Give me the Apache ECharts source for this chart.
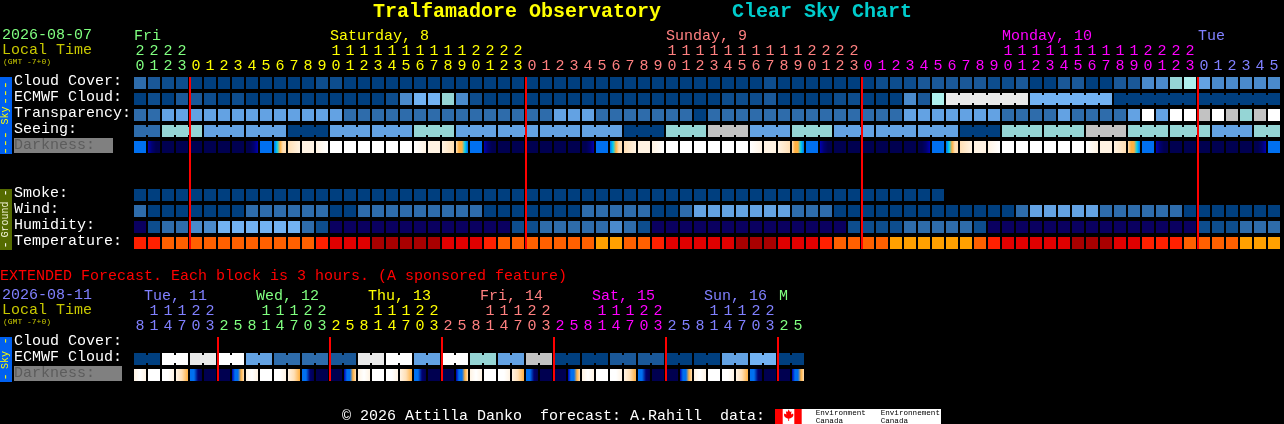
<!DOCTYPE html>
<html><head><meta charset="utf-8">
<style>html,body{margin:0;padding:0;background:#000}#c{width:1284px;height:424px}</style>
<script src="https://cdn.jsdelivr.net/npm/echarts@6/dist/echarts.min.js"></script>
</head><body><div id="c"></div>
<script>
// ---------- data ----------
const rowLabels=['Cloud Cover:','ECMWF Cloud:','Transparency:','Seeing:','Darkness:','','','Smoke:','Wind:','Humidity:','Temperature:'];
const extRowLabels=['Cloud Cover:','ECMWF Cloud:','Darkness:'];
const hours=[20,21,22,23,0,1,2,3,4,5,6,7,8,9,10,11,12,13,14,15,16,17,18,19,20,21,22,23,0,1,2,3,4,5,6,7,8,9,10,11,12,13,14,15,16,17,18,19,20,21,22,23,0,1,2,3,4,5,6,7,8,9,10,11,12,13,14,15,16,17,18,19,20,21,22,23,0,1,2,3,4,5];
const hourDays=[0,0,0,0,1,1,1,1,1,1,1,1,1,1,1,1,1,1,1,1,1,1,1,1,1,1,1,1,2,2,2,2,2,2,2,2,2,2,2,2,2,2,2,2,2,2,2,2,2,2,2,2,3,3,3,3,3,3,3,3,3,3,3,3,3,3,3,3,3,3,3,3,3,3,3,3,4,4,4,4,4,4];
const dayNames=['Fri','Saturday, 8','Sunday, 9','Monday, 10','Tue'];
const dayCols=[0,14,38,62,76];
const midnights=[4,28,52,76];
const cloudCover=[3,2,1,1,0,0,0,0,0,0,0,0,0,1,1,0,0,0,0,0,0,0,0,0,0,0,0,0,0,0,0,0,0,0,0,0,0,0,0,0,0,0,0,0,0,1,0,0,0,0,0,0,0,1,1,1,2,2,2,2,2,1,1,2,0,0,2,2,0,0,2,2,4,4,7,8,5,4,4,4,4,4];
const ecmwf=[0,1,0,2,2,1,0,1,0,0,0,0,0,0,0,0,0,0,1,4,6,6,7,4,1,0,0,0,0,0,0,0,0,0,0,0,0,0,0,0,0,0,1,1,1,2,0,0,0,0,1,1,0,0,0,4,2,8,9,9,9,9,9,9,6,6,6,6,6,6,0,0,0,0,0,0,0,0,0,0,0,0];
const ecmwfGroups=[[58,63],[64,69],[70,75],[76,81]];
const transparency=[3,3,5,5,5,5,5,5,5,5,5,5,5,5,5,3,3,3,3,3,3,3,3,3,3,3,3,3,3,3,5,5,5,3,3,3,3,3,3,3,0,3,3,3,3,3,3,3,3,3,3,3,3,3,3,5,5,5,5,5,5,5,3,3,3,3,5,3,3,3,3,5,10,5,10,10,11,10,11,7,11,10];
const seeing=[3,3,7,7,7,5,5,5,5,5,5,0,0,0,5,5,5,5,5,5,7,7,7,5,5,5,5,5,5,5,5,5,5,5,5,0,0,0,7,7,7,11,11,11,5,5,5,7,7,7,5,5,5,5,5,5,5,5,5,0,0,0,7,7,7,7,7,7,11,11,11,7,7,7,7,7,7,5,5,5,7,7];
const seeingGroups=[[0,1],[2,4],[5,7],[8,10],[11,13],[14,16],[17,19],[20,22],[23,25],[26,28],[29,31],[32,34],[35,37],[38,40],[41,43],[44,46],[47,49],[50,52],[53,55],[56,58],[59,61],[62,64],[65,67],[68,70],[71,73],[74,76],[77,79],[80,81]];
const darkness=[[6],[7,8,9,9],[9],[9],[9],[9],[9],[9],[9,9,8,7],[6],[6,5,3,2,2],[2,1],[1,1],[1,0],[0],[0],[0],[0],[0],[0],[0,1],[1,1],[1,2],[2,3,3,5,6],
[6],[7,8,9,9],[9],[9],[9],[9],[9],[9],[9,9,8,7],[6],[6,5,3,2,2],[2,1],[1,1],[1,0],[0],[0],[0],[0],[0],[0],[0,1],[1,1],[1,2],[2,3,3,5,6],
[6],[7,8,9,9],[9],[9],[9],[9],[9],[9],[9,9,8,7],[6],[6,5,3,2,2],[2,1],[1,1],[1,0],[0],[0],[0],[0],[0],[0],[0,1],[1,1],[1,2],[2,3,3,5,6],
[6],[7,8,9,9],[9],[9],[9],[9],[9],[9],[9,9,8,7],[6]];
const smoke=[0,0,0,0,0,0,0,0,0,0,0,0,0,0,0,0,0,0,0,0,0,0,0,0,0,0,0,0,0,0,0,0,0,0,0,0,0,0,0,0,0,0,0,0,0,0,0,0,0,0,0,0,0,0,0,0,0,0];
const wind=[3,0,0,0,0,0,0,0,3,3,3,3,3,3,0,0,3,3,3,3,3,3,3,3,3,0,0,0,0,0,0,0,3,3,3,3,3,0,0,3,5,5,5,5,5,5,5,3,3,3,0,0,0,0,0,0,0,0,0,0,0,0,0,3,5,5,5,5,5,3,3,3,3,3,3,0,0,0,0,0,0,0];
const humidity=[12,1,3,3,4,4,6,6,6,6,6,6,3,1,12,12,12,12,12,12,12,12,12,12,12,12,12,1,1,3,3,3,3,3,4,3,1,12,12,12,12,12,12,12,12,12,12,12,12,12,12,1,1,1,1,3,3,3,3,3,1,12,12,12,12,12,12,12,12,12,12,12,12,12,12,12,1,1,1,3,3,3];
const temperature=[2,2,3,3,3,3,3,3,3,3,3,3,3,2,1,1,1,0,0,0,0,0,1,1,1,2,3,3,3,3,3,3,3,4,4,3,3,2,1,1,1,1,1,0,0,0,1,1,1,2,3,3,3,3,4,4,4,4,4,4,3,2,1,1,1,1,1,0,0,0,1,1,2,2,2,3,3,3,3,4,4,4];
const extHours=[8,11,14,17,20,23,2,5,8,11,14,17,20,23,2,5,8,11,14,17,20,23,2,5,8,11,14,17,20,23,2,5,8,11,14,17,20,23,2,5,8,11,14,17,20,23,2,5];
const extHourDays=[4,4,4,4,4,4,0,0,0,0,0,0,0,0,1,1,1,1,1,1,1,1,2,2,2,2,2,2,2,2,3,3,3,3,3,3,3,3,4,4,4,4,4,4,4,4,0,0];
const extDayNames=['Tue, 11','Wed, 12','Thu, 13','Fri, 14','Sat, 15','Sun, 16','M'];
const extDayColours=[4,0,1,2,3,4,0];
const extMidnights=[6,14,22,30,38,46];
const extEcmwf=[0,0,10,10,9,9,10,10,5,5,3,3,3,3,2,2,9,9,10,10,5,5,10,10,7,7,5,5,11,11,0,0,0,0,2,2,2,2,0,0,0,0,5,5,6,6,0,0];
const extDarkness=[[1,0,1],[0],[0,0,1],[1,2,3],[6,6,8,9],[9],[9],[7,6,6,3,2],[1,0,1],[0],[0,0,1],[1,2,3],[6,6,8,9],[9],[9],[7,6,6,3,2],[1,0,1],[0],[0,0,1],[1,2,3],[6,6,8,9],[9],[9],[7,6,6,3,2],[1,0,1],[0],[0,0,1],[1,2,3],[6,6,8,9],[9],[9],[7,6,6,3,2],[1,0,1],[0],[0,0,1],[1,2,3],[6,6,8,9],[9],[9],[7,6,6,3,2],[1,0,1],[0],[0,0,1],[1,2,3],[6,6,8,9],[9],[9],[7,6,6,3,2]];
// ---------- palettes ----------
const skyColors=['#003f7f','#0d4d8e','#1a5898','#2e6cab','#4a8acb','#63a2e3','#72b2f2','#95d5d5','#aef0ee','#e9e9e9','#ffffff','#c2c2c2','#0a0060'];
const tempColors=['#a80000','#e00000','#ff2000','#ff6000','#ffa000'];
const darkColors=['#ffffff','#fff3e3','#ffdfb5','#ffb040','#30b8a0','#00d0f0','#0070f0','#0000b0','#000070','#000050'];
const dayColors=['#80ff80','#ffff00','#ff8080','#ff00ff','#8080ff'];
const FONT='"Liberation Mono",monospace';

function groupsToJoined(groups){const s=new Set();(groups||[]).forEach(g=>{for(let c=g[0];c<g[1];c++)s.add(c);});return s;}
function blockSeries(gridIdx,xIdx,yIdx,row,values,palette,groups){
  const joined=groupsToJoined(groups);
  return {type:'custom',xAxisIndex:xIdx,yAxisIndex:yIdx,coordinateSystem:'cartesian2d',clip:false,z:2,silent:true,
    data:values.map((v,c)=>[c,row,v]),encode:{x:0,y:1},
    renderItem(p,api){
      const c=api.value(0),pt=api.coord([c,row]),fill=palette[api.value(2)];
      const x=pt[0]-6,y=pt[1]-6;
      const ch=[{type:'rect',shape:{x,y,width:12,height:12},style:{fill}}];
      if(joined.has(c))ch.push({type:'rect',shape:{x:x+12,y:y+2,width:2,height:8},style:{fill}});
      return {type:'group',children:ch};
    }};
}
function gradientSeries(xIdx,yIdx,row,stops){
  return {type:'custom',xAxisIndex:xIdx,yAxisIndex:yIdx,coordinateSystem:'cartesian2d',clip:false,z:2,silent:true,
    data:stops.map((v,c)=>[c,row]),encode:{x:0,y:1},
    renderItem(p,api){
      const c=api.value(0),pt=api.coord([c,row]),s=stops[c];
      const fill=s.length===1?darkColors[s[0]]:new echarts.graphic.LinearGradient(0,0,1,0,s.map((k,i)=>({offset:i/(s.length-1),color:darkColors[k]})));
      return {type:'rect',shape:{x:pt[0]-6,y:pt[1]-6,width:12,height:12},style:{fill}};
    }};
}
function lineSeries(xIdx,yIdx,cols,lastRow){
  return {type:'custom',xAxisIndex:xIdx,yAxisIndex:yIdx,coordinateSystem:'cartesian2d',clip:false,z:5,silent:true,
    data:cols.map(c=>[c,0]),encode:{x:0,y:1},
    renderItem(p,api){
      const a=api.coord([api.value(0),0]),b=api.coord([api.value(0),lastRow]);
      return {type:'rect',shape:{x:a[0]-7,y:a[1]-6,width:2,height:b[1]-a[1]+12},style:{fill:'#ff0000'}};
    }};
}
const hidden={axisLine:{show:false},axisTick:{show:false},splitLine:{show:false}};
function hourAxis(gridIndex,hs,ds,mode,offset){
  return Object.assign({type:'category',gridIndex,position:'top',offset,boundaryGap:true,
    data:hs.map((h,i)=>({value:mode==='ones'?String(h%10):(h>=10?String(Math.floor(h/10)):' '),textStyle:{color:dayColors[ds[i]]}})),
    axisLabel:{interval:0,margin:1,fontFamily:FONT,fontSize:15,color:'#fff'}},hidden);
}
// day names sit at a column boundary: an edge-aligned category axis gives one tick per cell edge
function dayAxis(gridIndex,n,cols,names,colorIdx,offset,pad){
  const d=[];
  for(let i=0;i<=n;i++){const k=cols.indexOf(i);d.push(k<0?{value:' '}:{value:names[k],textStyle:{color:dayColors[colorIdx[k]],align:'left',padding:[0,0,0,pad[k]]}});}
  return Object.assign({type:'category',gridIndex,position:'top',offset,boundaryGap:false,data:d,
    axisLabel:{interval:0,margin:1,fontFamily:FONT,fontSize:15,align:'left',color:'#fff',hideOverlap:false}},hidden);
}
function rowAxis(gridIndex,labels,darkW){
  return Object.assign({type:'category',gridIndex,inverse:true,data:labels,
    axisLabel:{interval:0,align:'left',margin:119,fontFamily:FONT,fontSize:15,color:'#fff',padding:[0,0,3,0],
      formatter:v=>v==='Darkness:'?'{d|'+v+'}':v,
      rich:{d:{backgroundColor:'#808080',color:'#5c5c5c',width:darkW,height:15,fontFamily:FONT,fontSize:15,align:'left'}}}},hidden);
}
function T(x,y,text,fill,size,extra){
  return Object.assign({type:'text',x,y,silent:true,z:10,style:Object.assign({text,fill,font:(extra&&extra.weight?extra.weight+' ':'')+size+'px '+FONT,textAlign:'left',textVerticalAlign:'middle'},extra&&extra.style)},extra&&extra.el);
}
function V(y,text,fill,size){
  return {type:'text',x:5.5,y,rotation:Math.PI/2,silent:true,z:10,style:{text,fill,font:size+'px '+FONT,textAlign:'center',textVerticalAlign:'middle'}};
}
function R(x,y,w,h,fill){return {type:'rect',silent:true,z:9,shape:{x,y,width:w,height:h},style:{fill}};}
const leaf=[[788.7,409.5],[790,412],[791.5,411.2],[791,414.5],[793,413.5],[793.5,415],[792.6,417],[790,418.6],[789.1,418.4],[789.1,421],[788.3,421],[788.3,418.4],[787.4,418.6],[784.8,417],[783.9,415],[784.4,413.5],[786.4,414.5],[785.9,411.2],[787.4,412]];
const graphics=[
  T(373,12,'Tralfamadore Observatory','#ffff00',20,{weight:'bold'}),
  T(732,12,'Clear Sky Chart','#00cccc',20,{weight:'bold'}),
  T(2,35,'2026-08-07','#80ff80',15),
  T(2,50,'Local Time','#c8c800',15),
  T(3,62,'(GMT -7+0)','#c8c800',8),
  T(0,276,'EXTENDED Forecast. Each block is 3 hours. (A sponsored feature)','#ff0000',15),
  T(2,295,'2026-08-11','#8080ff',15),
  T(2,310,'Local Time','#c8c800',15),
  T(3,322,'(GMT -7+0)','#c8c800',8),
  T(342,416,'\u00a9 2026 Attilla Danko  forecast: A.Rahill  data:','#ffffff',15),
  R(0,77,12,77,'#0060f0'),V(93,'---','#ffff00',13),V(115.5,'Sky','#ffff00',10),V(143,'---','#ffff00',13),
  R(0,189,12,61,'#556b00'),V(193,'-','#ffffff',12),V(219.5,'Ground','#f4f4d8',10),V(245,'-','#ffffff',12),
  R(0,337,12,45,'#0060f0'),V(341,'-','#ffff00',12),V(360,'Sky','#ffff00',10),V(377,'-','#ffff00',12),
  R(775,409,166,15,'#ffffff'),R(775,409,7.7,15,'#ff0000'),R(794.3,409,7.4,15,'#ff0000'),
  {type:'polygon',silent:true,z:10,shape:{points:leaf},style:{fill:'#ff0000'}},
  T(815.7,413,'Environment','#000000',7.6),T(815.7,420.5,'Canada','#000000',7.6),
  T(880.7,413,'Environnement','#000000',7.6),T(880.7,420.5,'Canada','#000000',7.6)
];
const option={
  animation:false,backgroundColor:'#000',
  grid:[{left:133,top:75,width:1148,height:176,outerBoundsMode:'none'},{left:133,top:335,width:672,height:48,outerBoundsMode:'none'}],
  xAxis:[
    hourAxis(0,hours,hourDays,'ones',0),hourAxis(0,hours,hourDays,'tens',15),dayAxis(0,82,dayCols,dayNames,[0,1,2,3,4],30,[1,1,1,1,1]),
    hourAxis(1,extHours,extHourDays,'ones',0),hourAxis(1,extHours,extHourDays,'tens',15),dayAxis(1,48,[0,8,16,24,32,40,46],extDayNames,extDayColours,30,[11,11,11,11,11,11,2])
  ],
  yAxis:[rowAxis(0,rowLabels,99),rowAxis(1,extRowLabels,108)],
  series:[
    blockSeries(0,0,0,0,cloudCover,skyColors),
    blockSeries(0,0,0,1,ecmwf,skyColors,ecmwfGroups),
    blockSeries(0,0,0,2,transparency,skyColors),
    blockSeries(0,0,0,3,seeing,skyColors,seeingGroups),
    gradientSeries(0,0,4,darkness),
    blockSeries(0,0,0,7,smoke,skyColors),
    blockSeries(0,0,0,8,wind,skyColors),
    blockSeries(0,0,0,9,humidity,skyColors),
    blockSeries(0,0,0,10,temperature,tempColors),
    lineSeries(0,0,midnights,10),
    blockSeries(1,3,1,1,extEcmwf,skyColors,extEcmwf.map((v,i)=>[i,i+1]).filter((g,i)=>i%2===0)),
    gradientSeries(3,1,2,extDarkness),
    lineSeries(3,1,extMidnights,2)
  ],
  graphic:graphics
};
const chart=echarts.init(document.getElementById('c'),null,{renderer:'canvas',width:1284,height:424});
chart.setOption(option);
</script></body></html>
